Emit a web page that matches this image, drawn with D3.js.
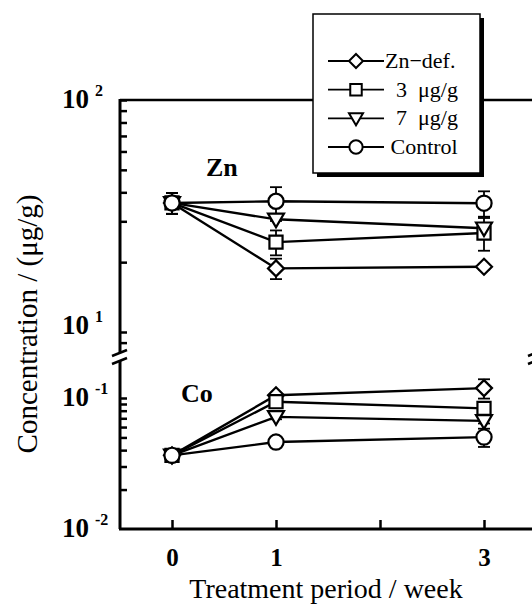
<!DOCTYPE html>
<html lang="en">
<head>
<meta charset="UTF-8">
<title>Zn and Co concentration vs treatment period</title>
<script src="https://d3js.org/d3.v7.min.js"></script>
<style>
  body { margin: 0; background: #fff; }
  text { font-family: "Liberation Serif", "Times New Roman", serif; fill: #000; }
</style>
</head>
<body>
<svg id="chart" width="532" height="606"></svg>
<script>
// data
const weeks = [0, 1, 3];
const xTicks = [0, 1, 2, 3];
const xTickLabels = ["0", "1", "", "3"];
const seriesNames = ["Zn\u2212def.", "  3  \u03bcg/g", "  7  \u03bcg/g", " Control"];
const seriesSymbols = ["diamond", "square", "triangle", "circle"];

// Zn panel (ug/g), order as seriesNames
const znMeans = [[36, 18.8, 19.1], [36, 24.4, 26.7], [36, 30.6, 28.0], [36, 36.6, 35.9]];
const znErrors = [[3.7, 1.9, 0.5], [3.7, 3.0, 4.3], [3.7, 0.5, 0.5], [3.7, 5.5, 4.5]];
// Co panel (ug/g)
const coMeans = [[0.0365, 0.105, 0.119], [0.0365, 0.0937, 0.0833], [0.0365, 0.0718, 0.0669], [0.0365, 0.0461, 0.0503]];
const coErrors = [[0.003, 0.003, 0.02], [0.003, 0.003, 0.003], [0.003, 0.003, 0.003], [0.003, 0.004, 0.008]];

const znMinorTicks = [9, 20, 30, 40, 50, 60, 70, 80, 90];
const coMinorTicks = [0.02, 0.03, 0.04, 0.05, 0.06, 0.07, 0.08, 0.09];

const svg = d3.select("#chart");

const plotLeft = 120, plotTop = 100, plotBottom = 529, breakTop = 353, breakBot = 361;

const x = d3.scaleLinear().domain([-0.5, 3.5]).range([plotLeft, 536]);
const yZn = d3.scaleLog().domain([10, 100]).range([332, plotTop]);
const yCo = d3.scaleLog().domain([0.01, 0.1]).range([plotBottom, 398]);

// frame lines
svg.append("line").attr("x1", plotLeft).attr("x2", 532).attr("y1", plotTop).attr("y2", plotTop)
  .attr("stroke", "#000").attr("stroke-width", 2.5);
svg.append("line").attr("x1", plotLeft - 1).attr("x2", 532).attr("y1", plotBottom).attr("y2", plotBottom)
  .attr("stroke", "#000").attr("stroke-width", 3);
[plotLeft, 536].forEach(ax => {
  svg.append("line").attr("x1", ax).attr("x2", ax).attr("y1", plotTop - 1).attr("y2", breakTop)
    .attr("stroke", "#000").attr("stroke-width", 3);
  svg.append("line").attr("x1", ax).attr("x2", ax).attr("y1", breakBot).attr("y2", plotBottom)
    .attr("stroke", "#000").attr("stroke-width", 3);
  [breakTop, breakBot].forEach(by => {
    svg.append("line").attr("x1", ax - 8).attr("x2", ax + 7).attr("y1", by + 3).attr("y2", by - 3)
      .attr("stroke", "#000").attr("stroke-width", 2.5);
  });
});

// y axes (ticks only, pointing inward)
const znAxis = d3.axisRight(yZn).tickValues(znMinorTicks.concat([10, 100])).tickSize(7).tickFormat("");
svg.append("g").attr("transform", `translate(${plotLeft},0)`).call(znAxis)
  .call(g => g.select(".domain").remove())
  .selectAll("line").attr("stroke-width", 2.5);
const coAxis = d3.axisRight(yCo).tickValues(coMinorTicks.concat([0.1])).tickSize(7).tickFormat("");
svg.append("g").attr("transform", `translate(${plotLeft},0)`).call(coAxis)
  .call(g => g.select(".domain").remove())
  .selectAll("line").attr("stroke-width", 2.5);

// y tick labels 10^n
const yLabels = [
  {v: 100, s: yZn, e: "2"}, {v: 10, s: yZn, e: "1"},
  {v: 0.1, s: yCo, e: "-1"}, {v: 0.01, s: yCo, e: "-2"}
];
yLabels.forEach(d => {
  const t = svg.append("text").attr("x", 62).attr("y", d.s(d.v) + (d.v === 10 ? 2 : 8))
    .attr("font-size", 27).attr("font-weight", "bold");
  t.append("tspan").text("10");
  t.append("tspan").attr("dx", 6).attr("dy", -12).attr("font-size", 16).text(d.e);
});

// x axis
const xAxis = d3.axisBottom(x).tickValues(xTicks).tickSizeInner(-9).tickSizeOuter(0)
  .tickPadding(19).tickFormat((d, i) => xTickLabels[i]);
svg.append("g").attr("transform", `translate(0,${plotBottom})`).call(xAxis)
  .call(g => g.select(".domain").remove())
  .call(g => g.selectAll("line").attr("stroke-width", 2.5))
  .call(g => g.selectAll("text").attr("font-size", 25).attr("font-weight", "bold"));

// axis titles
svg.append("text").attr("x", 326).attr("y", 598).attr("text-anchor", "middle")
  .attr("font-size", 28).text("Treatment period / week");
svg.append("text").attr("transform", "translate(37,324) rotate(-90)").attr("text-anchor", "middle")
  .attr("font-size", 29).text("Concentration / (\u03bcg/g)");

// panel labels
svg.append("text").attr("x", 206).attr("y", 176).attr("font-size", 26).attr("font-weight", "bold").text("Zn");
svg.append("text").attr("x", 181).attr("y", 402).attr("font-size", 26).attr("font-weight", "bold").text("Co");

function symbolPath(type, r) {
  if (type === "diamond") return `M0,${-r}L${r},0L0,${r}L${-r},0Z`;
  if (type === "square") { const h = r * 0.82; return `M${-h},${-h}H${h}V${h}H${-h}Z`; }
  if (type === "triangle") { const w = r, h = r * 0.9; return `M${-w},${-h * 0.8}H${w}L0,${h * 1.1}Z`; }
  return d3.arc()({innerRadius: 0, outerRadius: r * 0.95, startAngle: 0, endAngle: 2 * Math.PI});
}

function drawPanel(means, errors, y) {
  const g = svg.append("g");
  means.forEach((vals, si) => {
    const pts = weeks.map((w, i) => ({w, v: vals[i], e: errors[si][i]}));
    g.append("path").datum(pts)
      .attr("d", d3.line().x(d => x(d.w)).y(d => y(d.v)))
      .attr("fill", "none").attr("stroke", "#000").attr("stroke-width", 2.4);
    pts.forEach(p => {
      const cx = x(p.w), y1 = y(p.v + p.e), y2 = y(p.v - p.e);
      g.append("line").attr("x1", cx).attr("x2", cx).attr("y1", y1).attr("y2", y2)
        .attr("stroke", "#000").attr("stroke-width", 1.8);
      [y1, y2].forEach(yy => g.append("line").attr("x1", cx - 6).attr("x2", cx + 6)
        .attr("y1", yy).attr("y2", yy).attr("stroke", "#000").attr("stroke-width", 1.8));
    });
  });
  means.forEach((vals, si) => {
    weeks.forEach((w, i) => {
      g.append("path").attr("d", symbolPath(seriesSymbols[si], 8))
        .attr("transform", `translate(${x(w)},${y(vals[i])})`)
        .attr("fill", "#fff").attr("stroke", "#000").attr("stroke-width", 2.2);
    });
  });
}
drawPanel(znMeans, znErrors, yZn);
drawPanel(coMeans, coErrors, yCo);

// legend
const lg = svg.append("g");
lg.append("rect").attr("x", 317).attr("y", 18).attr("width", 167).attr("height", 159).attr("fill", "#000");
lg.append("rect").attr("x", 313).attr("y", 14).attr("width", 167).attr("height", 159)
  .attr("fill", "#fff").attr("stroke", "#000").attr("stroke-width", 1.5);
const legendY = d3.scalePoint().domain(seriesNames).range([61, 147]);
seriesNames.forEach((name, si) => {
  const yy = legendY(name);
  lg.append("line").attr("x1", 328).attr("x2", 384).attr("y1", yy).attr("y2", yy)
    .attr("stroke", "#000").attr("stroke-width", 1.8);
  lg.append("path").attr("d", symbolPath(seriesSymbols[si], 7))
    .attr("transform", `translate(356,${yy})`)
    .attr("fill", "#fff").attr("stroke", "#000").attr("stroke-width", 2);
  lg.append("text").attr("x", 385).attr("y", yy + 7).attr("font-size", 22)
    .style("white-space", "pre").text(name);
});
</script>
</body>
</html>
